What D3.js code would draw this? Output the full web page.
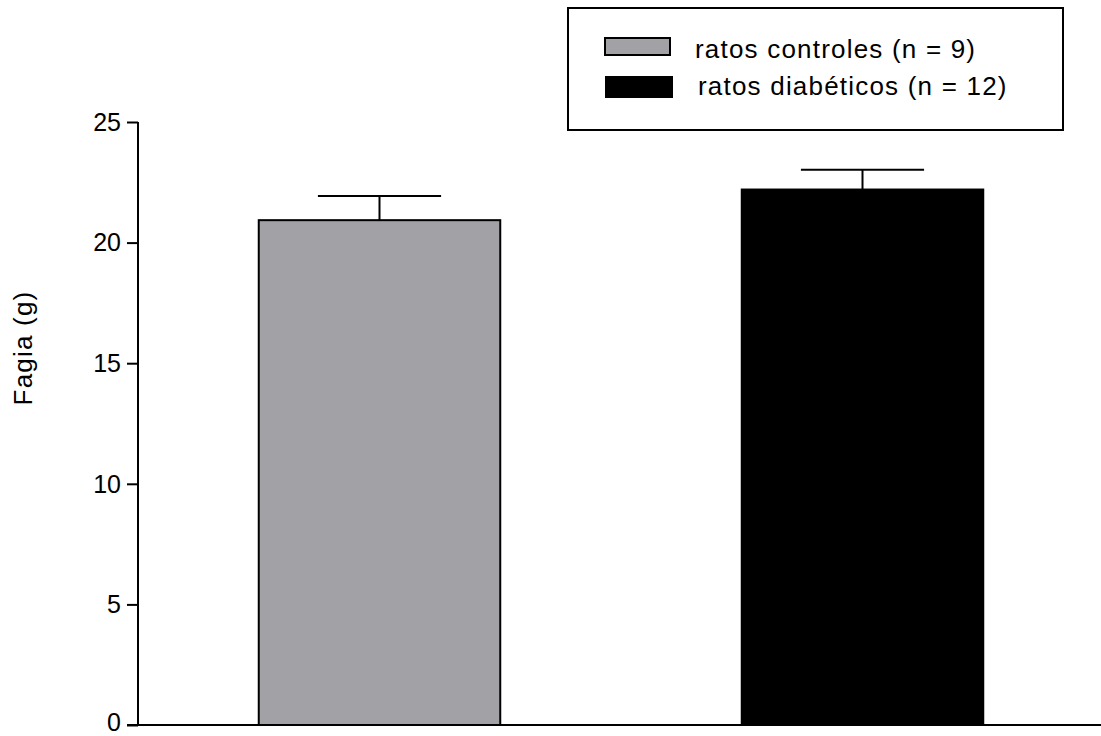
<!DOCTYPE html>
<html>
<head>
<meta charset="utf-8">
<script src="https://cdn.jsdelivr.net/npm/d3@7"></script>
<style>
  body { margin: 0; background: #fff; }
  text { font-family: "Liberation Sans", Arial, sans-serif; fill: #000; }
</style>
</head>
<body>
<script>
var groups = ["ratos controles (n = 9)", "ratos diabéticos (n = 12)"];
var means = [20.93, 22.2];
var errors = [1.0, 0.82];
var colors = ["#a2a1a6", "#000000"];
var yTicks = [0, 5, 10, 15, 20, 25];

var width = 1101, height = 736;

var svg = d3.select("body").append("svg")
  .attr("width", width).attr("height", height);

var y = d3.scaleLinear().domain([0, 25]).range([725, 122]);
var x = d3.scaleBand().domain(groups).range([138, 1104])
  .paddingInner(0.5).paddingOuter(0.25);

// y axis
var yAxis = d3.axisLeft(y).tickValues(yTicks).tickSize(11).tickPadding(6);
var gy = svg.append("g").attr("transform", "translate(138,0)").call(yAxis);
gy.select(".domain").attr("stroke", "#000").attr("stroke-width", 2)
  .attr("d", "M0," + y(25) + "V" + y(0));
gy.selectAll(".tick line").attr("stroke", "#000").attr("stroke-width", 2);
gy.selectAll(".tick text").style("font-size", "25px")
  .attr("dy", function(d) { return d === 0 ? "0.2em" : "0.33em"; });

// x axis baseline
svg.append("line")
  .attr("x1", 127).attr("x2", width)
  .attr("y1", y(0)).attr("y2", y(0))
  .attr("stroke", "#000").attr("stroke-width", 2);

// error bars (drawn first, bars cover the stem)
var eb = svg.append("g");
groups.forEach(function(g, i) {
  var cx = x(g) + x.bandwidth() / 2;
  var cw = x.bandwidth() * 0.51;
  eb.append("line")
    .attr("x1", cx).attr("x2", cx)
    .attr("y1", y(means[i])).attr("y2", y(means[i] + errors[i]))
    .attr("stroke", "#000").attr("stroke-width", 2);
  eb.append("line")
    .attr("x1", cx - cw / 2).attr("x2", cx + cw / 2)
    .attr("y1", y(means[i] + errors[i])).attr("y2", y(means[i] + errors[i]))
    .attr("stroke", "#000").attr("stroke-width", 2);
});

// bars
svg.selectAll("rect.bar").data(groups).enter().append("rect")
  .attr("class", "bar")
  .attr("x", function(d) { return x(d); })
  .attr("width", x.bandwidth())
  .attr("y", function(d, i) { return y(means[i]); })
  .attr("height", function(d, i) { return y(0) - y(means[i]); })
  .attr("fill", function(d, i) { return colors[i]; })
  .attr("stroke", "#000").attr("stroke-width", 2);

// y label
svg.append("text")
  .attr("transform", "translate(32,348) rotate(-90)")
  .attr("text-anchor", "middle")
  .style("font-size", "26px")
  .style("letter-spacing", "1.2px")
  .text("Fagia (g)");

// legend
var leg = svg.append("g");
leg.append("rect")
  .attr("x", 568).attr("y", 8).attr("width", 495).attr("height", 122)
  .attr("fill", "none").attr("stroke", "#000").attr("stroke-width", 2);
var legRows = [
  { sx: 605, sy: 38, sw: 65, sh: 17, tx: 695, ty: 58 },
  { sx: 606, sy: 77, sw: 66, sh: 20, tx: 698, ty: 95 }
];
groups.forEach(function(g, i) {
  var r = legRows[i];
  leg.append("rect")
    .attr("x", r.sx).attr("y", r.sy).attr("width", r.sw).attr("height", r.sh)
    .attr("fill", colors[i]).attr("stroke", "#000").attr("stroke-width", 2);
  leg.append("text")
    .attr("x", r.tx).attr("y", r.ty)
    .style("font-size", "26px")
    .style("letter-spacing", "1.2px")
    .text(g);
});
</script>
</body>
</html>
